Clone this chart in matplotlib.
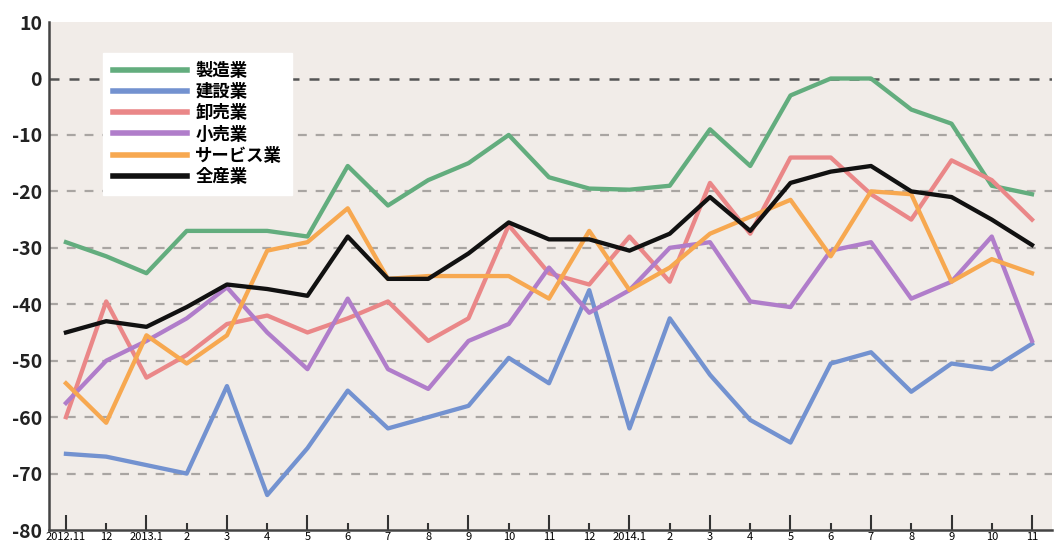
import matplotlib
matplotlib.use("Agg")
import matplotlib.pyplot as plt

plt.rcParams['font.family'] = ['Noto Sans CJK JP', 'DejaVu Sans']
plt.rcParams['axes.unicode_minus'] = False

# 月次の x 軸ラベル (2012.11 - 2014.11)
x_labels = ["2012.11", "12", "2013.1", "2", "3", "4", "5", "6", "7", "8", "9", "10", "11", "12",
            "2014.1", "2", "3", "4", "5", "6", "7", "8", "9", "10", "11"]

series_names = ["製造業", "建設業", "卸売業", "小売業", "サービス業", "全産業"]

manufacturing = [-29, -31.5, -34.5, -27, -27, -27, -28, -15.5, -22.5, -18, -15, -10, -17.5,
                 -19.5, -19.7, -19, -9, -15.5, -3, 0, 0, -5.5, -8, -19, -20.5]
construction = [-66.5, -67, -68.5, -70, -54.5, -73.8, -65.5, -55.3, -62, -60, -58, -49.5, -54,
                -37.5, -62, -42.5, -52.5, -60.5, -64.5, -50.5, -48.5, -55.5, -50.5, -51.5, -47]
wholesale = [-60, -39.5, -53, -49, -43.5, -42, -45, -42.5, -39.5, -46.5, -42.5, -26, -34.5,
             -36.5, -28, -36, -18.5, -27.5, -14, -14, -20.5, -25, -14.5, -18, -25]
retail = [-57.5, -50, -46.5, -42.5, -37, -45, -51.5, -39, -51.5, -55, -46.5, -43.5, -33.5,
          -41.5, -37.5, -30, -29, -39.5, -40.5, -30.5, -29, -39, -36, -28, -46.5]
services = [-54, -61, -45.5, -50.5, -45.5, -30.5, -29, -23, -35.5, -35, -35, -35, -39,
            -27, -37.5, -33.5, -27.5, -24.5, -21.5, -31.5, -20, -20.5, -36, -32, -34.5]
all_industries = [-45, -43, -44, -40.5, -36.5, -37.3, -38.5, -28, -35.5, -35.5, -31, -25.5, -28.5,
                  -28.5, -30.5, -27.5, -21, -27, -18.5, -16.5, -15.5, -20, -21, -25, -29.5]

colors = ["#63ad7e", "#7392d0", "#ea8788", "#b07dca", "#f7a850", "#111111"]

fig = plt.figure(figsize=(10.57, 5.45), dpi=100)
fig.patch.set_facecolor("white")
ax = fig.add_axes([0.0464, 0.0275, 0.949, 0.932])
ax.set_facecolor("#f1ece8")

x = list(range(len(x_labels)))
data = [manufacturing, construction, wholesale, retail, services, all_industries]
for values, name, color in zip(data, series_names, colors):
    ax.plot(x, values, color=color, lw=3.1, label=name, zorder=3)

ax.set_xlim(-0.42, 24.5)
ax.set_ylim(-80, 10)

# グリッド (0 は濃いめ)
for yv in range(-70, 0, 10):
    ax.axhline(yv, color="#a9a5a2", lw=1.6, ls=(0, (4, 4)), zorder=1)
ax.axhline(0, color="#555555", lw=1.8, ls=(0, (4, 4)), zorder=1)

ax.set_yticks(range(-80, 11, 10))
ax.tick_params(axis="y", length=0, pad=5, labelsize=14, colors="#222222")
for lbl in ax.get_yticklabels():
    lbl.set_fontweight("bold")

# x 軸: 偶数位置は長い目盛, 奇数位置は短い目盛
ax.set_xticks(x[::2], x_labels[::2])
ax.set_xticks(x[1::2], x_labels[1::2], minor=True)
ax.tick_params(axis="x", which="major", direction="in", length=11, width=1.5,
               color="#333333", pad=1.5, labelsize=8)
ax.tick_params(axis="x", which="minor", direction="in", length=5, width=1.5,
               color="#333333", pad=1.5, labelsize=8)

for side in ["top", "right"]:
    ax.spines[side].set_visible(False)
for side in ["left", "bottom"]:
    ax.spines[side].set_color("#444444")
    ax.spines[side].set_linewidth(1.8)

leg = ax.legend(loc="upper left", bbox_to_anchor=(0.054, 0.94), borderaxespad=0,
                frameon=True, fancybox=False, framealpha=1, edgecolor="white", fontsize=12.5,
                handlelength=4.3, handletextpad=0.45, labelspacing=0.18, borderpad=0.55)
for line in leg.get_lines():
    line.set_linewidth(4)
for text in leg.get_texts():
    text.set_fontweight("bold")

fig.savefig("out.png", dpi=100)
